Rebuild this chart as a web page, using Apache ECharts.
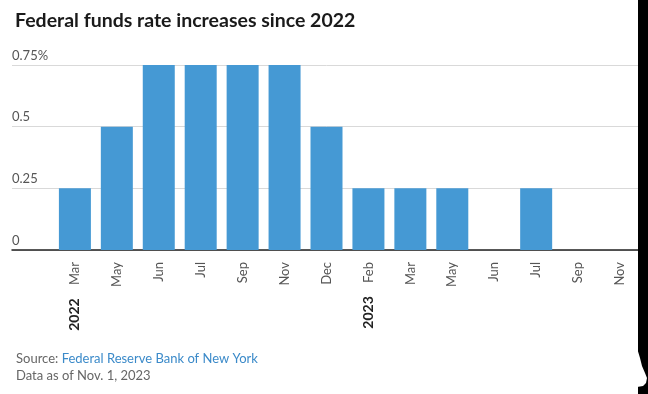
<!DOCTYPE html>
<html><head><meta charset="utf-8">
<script src="https://cdn.jsdelivr.net/npm/echarts@6/dist/echarts.min.js"></script>
<style>html,body{margin:0;padding:0;background:#fff}#c{width:648px;height:394px}</style>
</head><body><div id="c"></div>
<script>
const months = ['', 'Mar','May','Jun','Jul','Sep','Nov','Dec','Feb','Mar','May','Jun','Jul','Sep','Nov'];
const years  = ['', '2022','','','','','','','2023','','','','','',''];
const increases = [null, 0.25, 0.5, 0.75, 0.75, 0.75, 0.75, 0.5, 0.25, 0.25, 0.25, 0, 0.25, 0, 0];
const yTicks = {0:'0', 0.25:'0.25', 0.5:'0.5', 0.75:'0.75%'};

const FONT = 'Lato';
const chart = echarts.init(document.getElementById('c'), null, {renderer:'canvas'});
chart.setOption({
  backgroundColor:'#fff',
  animation:false,
  textStyle:{fontFamily:FONT},
  title:[{
    text:'Federal funds rate increases since 2022',
    left:10, top:6,
    textStyle:{fontFamily:FONT, fontWeight:'bold', fontSize:19.5, color:'#1a1a1a'}
  },{
    text:'{s|Source: }{l|Federal Reserve Bank of New York}\n{s|Data as of Nov. 1, 2023}',
    left:11, top:345,
    textStyle:{
      lineHeight:17, fontWeight:'normal',
      rich:{
        s:{fontFamily:FONT, fontSize:13, color:'#666', fontWeight:'normal', lineHeight:17},
        l:{fontFamily:FONT, fontSize:13, color:'#3b8ac9', fontWeight:'normal', lineHeight:17}
      }
    }
  }],
  grid:{left:12, right:7, top:65, bottom:144},
  xAxis:{
    type:'category',
    data:months,
    axisLine:{lineStyle:{color:'#222', width:1.5}},
    axisTick:{alignWithLabel:true, length:5, interval:(i)=>i>0, lineStyle:{color:'#222'}},
    axisLabel:{
      interval:0, rotate:90, margin:12, color:'#555', fontSize:13, fontFamily:FONT,
      formatter:(v,i)=> years[i] ? '{yr|' + years[i] + '}    ' + v : v,
      rich:{yr:{fontWeight:'bold', color:'#222', fontSize:14, fontFamily:FONT}}
    }
  },
  yAxis:{
    type:'value', min:0, max:0.75, interval:0.25,
    axisLine:{show:false}, axisTick:{show:false},
    splitLine:{lineStyle:{color:'#d9d9d9', width:1}},
    axisLabel:{
      inside:true, margin:0, verticalAlign:'bottom', padding:[0,0,3,0],
      color:'#555', fontSize:13, fontFamily:FONT,
      formatter:(v)=> yTicks[v] !== undefined ? yTicks[v] : String(v)
    }
  },
  series:[{
    type:'bar', data:increases, barWidth:32,
    itemStyle:{color:'#4599d4'}
  }],
  graphic:[{
    type:'rect', right:0, top:0, z:100,
    shape:{width:10, height:394},
    style:{fill:'#000'}
  },{
    type:'polygon', z:101,
    shape:{points:[[637,348],[640,358],[642,366],[645,373],[647,378],[646,383],[643,386],[637,387]]},
    style:{fill:'#fff'}
  }]
});
</script></body></html>
